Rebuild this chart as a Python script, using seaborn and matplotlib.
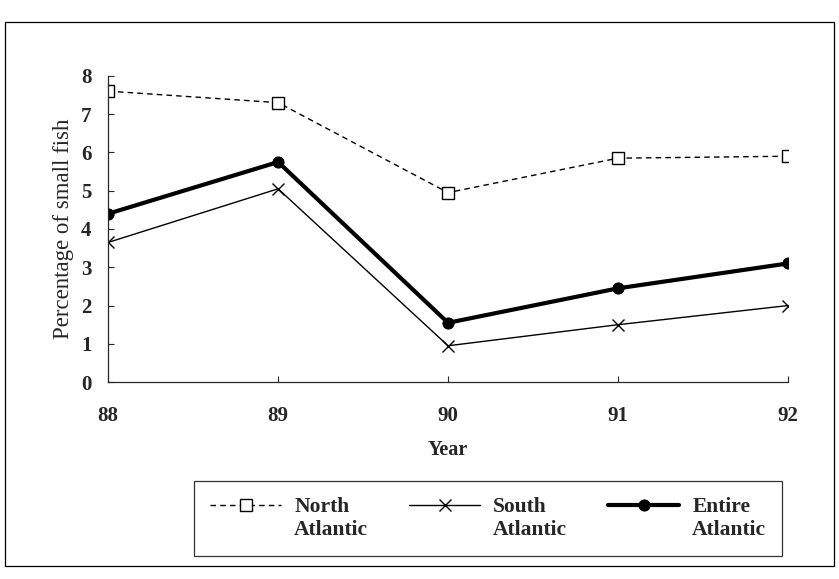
import numpy as np
import pandas as pd
import seaborn as sns
import matplotlib.pyplot as plt
from matplotlib.patches import Rectangle
from matplotlib.legend_handler import HandlerLine2D

# values
years = [88, 89, 90, 91, 92]
north_atlantic = [7.6, 7.3, 4.95, 5.85, 5.9]
south_atlantic = [3.65, 5.05, 0.95, 1.5, 2.0]
entire_atlantic = [4.4, 5.75, 1.55, 2.45, 3.1]
y_ticks = [0, 1, 2, 3, 4, 5, 6, 7, 8]

series_names = ["North\nAtlantic", "South\nAtlantic", "Entire\nAtlantic"]
df = pd.DataFrame({
    "Year": years * 3,
    "Value": north_atlantic + south_atlantic + entire_atlantic,
    "Series": np.repeat(series_names, len(years)),
})


# handle de la leyenda alineado con la primera linea del texto
class HandlerArriba(HandlerLine2D):
    def create_artists(self, legend, orig_handle, xdescent, ydescent, width, height, fontsize, trans):
        artistas = super().create_artists(legend, orig_handle, xdescent, ydescent,
                                          width, height, fontsize, trans)
        for a in artistas:
            a.set_ydata(np.asarray(a.get_ydata()) + 0.6 * fontsize)
        return artistas


sns.set_style("ticks")
plt.rcParams['font.family'] = ['Liberation Serif', 'DejaVu Serif']

fig = plt.figure(figsize=(8.39, 5.79), dpi=100)
ax = fig.add_axes([0.129, 0.340, 0.81, 0.529])

estilos = {
    "North\nAtlantic": dict(linestyle=(0, (4, 3)), linewidth=1.0, marker="s", markersize=8.5,
                            markerfacecolor="white", markeredgecolor="black", markeredgewidth=1.0),
    "South\nAtlantic": dict(linestyle="-", linewidth=1.0, marker="x", markersize=9,
                            markeredgecolor="black", markeredgewidth=1.0),
    "Entire\nAtlantic": dict(linestyle="-", linewidth=3.0, marker="o", markersize=8,
                             markerfacecolor="black", markeredgecolor="black"),
}

for nombre in series_names:
    sub = df[df["Series"] == nombre]
    sns.lineplot(data=sub, x="Year", y="Value", ax=ax, color="black",
                 label=nombre, **estilos[nombre])

ax.set_xlim(88, 92)
ax.set_ylim(0, 8)
ax.set_xticks(years)
ax.set_yticks(y_ticks)
ax.tick_params(axis="both", direction="in", length=4, width=0.8, labelsize=15)
ax.tick_params(axis="x", pad=17)
ax.tick_params(axis="y", pad=12)
for lab in ax.get_xticklabels() + ax.get_yticklabels():
    lab.set_fontweight("bold")
sns.despine(ax=ax)
for sp in ["left", "bottom"]:
    ax.spines[sp].set_linewidth(0.9)

ax.set_xlabel("Year", fontsize=14.5, fontweight="bold", labelpad=10)
ax.set_ylabel("Percentage of small fish", fontsize=16.5, fontweight="medium", labelpad=5)

ax.get_legend().remove()
handles, labels = ax.get_legend_handles_labels()
leg = fig.legend(handles, labels, loc="center", bbox_to_anchor=(0.582, 0.105), ncol=3,
                 frameon=True, fancybox=False, edgecolor="black", handlelength=3.3,
                 handletextpad=0.6, columnspacing=1.9, borderpad=0.75,
                 handler_map={h: HandlerArriba() for h in handles},
                 prop={"weight": "bold", "size": 15.5})
leg.get_frame().set_linewidth(0.9)

# marco exterior de la figura
fig.add_artist(Rectangle((0.006, 0.022), 0.988, 0.94, transform=fig.transFigure,
                         fill=False, edgecolor="black", linewidth=0.9))

fig.savefig("out.png", dpi=100)
